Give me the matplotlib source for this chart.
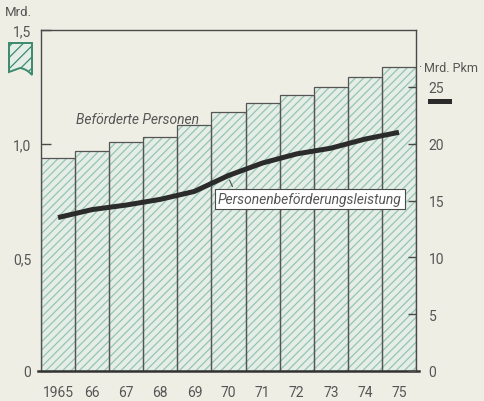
import matplotlib
matplotlib.use("Agg")
import matplotlib.pyplot as plt
from matplotlib.path import Path
from matplotlib.patches import PathPatch, Rectangle
import numpy as np

plt.rcParams['font.family'] = ['Roboto', 'DejaVu Sans']
plt.rcParams['hatch.linewidth'] = 0.9
plt.rcParams['hatch.color'] = '#96c4b2'

years = ['1965', '66', '67', '68', '69', '70', '71', '72', '73', '74', '75']
persons = [0.937, 0.968, 1.007, 1.03, 1.082, 1.139, 1.179, 1.214, 1.249, 1.293, 1.337]   # Mrd.
pkm = [13.5, 14.2, 14.6, 15.1, 15.8, 17.2, 18.3, 19.1, 19.6, 20.4, 21.0]                # Mrd. Pkm
left_ticks = [0, 0.5, 1.0, 1.5]
left_labels = ['0', '0,5', '1,0', '1,5']
right_ticks = [0, 5, 10, 15, 20, 25]

BG = '#efeee5'
TXT = '#555555'
EDGE = '#4a4a4a'

fig = plt.figure(figsize=(4.84, 4.02), dpi=100, facecolor=BG)
ax = fig.add_axes([41/484, 1-372/402, 375/484, 341/402], facecolor=BG)
x = np.arange(len(years))
ax.bar(x, persons, width=1.0, color='#e4eee6', edgecolor='#96c4b2', linewidth=0, hatch='////', zorder=2)
ax.bar(x, persons, width=1.0, facecolor='none', edgecolor='#555555', linewidth=0.9, zorder=3)
ax.set_xlim(-0.5, len(years) - 0.5)
ax.set_ylim(0, 1.5)
ax.set_yticks(left_ticks)
ax.set_yticklabels(left_labels)
ax.set_xticks(x)
ax.set_xticklabels(years)
ax.tick_params(axis='y', direction='in', length=7, width=1, color=EDGE, pad=7, labelsize=10, labelcolor=TXT)
ax.tick_params(axis='x', length=0, pad=10, labelsize=10, labelcolor=TXT)
for s in ['top', 'right', 'left']:
    ax.spines[s].set_color(EDGE)
    ax.spines[s].set_linewidth(1.0)
ax.spines['bottom'].set_visible(False)
ax.plot([-0.008, 1.008], [0, 0], transform=ax.transAxes, color='#333333', lw=1.8, clip_on=False, zorder=6)

ax2 = ax.twinx()
ax2.set_ylim(0, 30)
ax2.set_yticks(right_ticks)
ax2.set_yticklabels([str(t) for t in right_ticks])
ax2.tick_params(axis='y', direction='in', length=6, width=1, color=EDGE, pad=9, labelsize=10, labelcolor=TXT)
for s in ax2.spines.values():
    s.set_visible(False)
ax2.plot(x, pkm, color='#2b2b2b', lw=3.6, solid_capstyle='butt', zorder=5)

# Labels
ax.text(0.52, 1.109, 'Beförderte Personen', fontsize=10, style='italic', color=TXT, va='center', ha='left', zorder=7)
ax2.text(4.69, 15.1, 'Personenbeförderungsleistung', fontsize=10, style='italic', color=TXT,
         va='center', ha='left', zorder=7,
         bbox=dict(boxstyle='square,pad=0.22', facecolor='white', edgecolor=EDGE, linewidth=0.8))
ax2.annotate('', xy=(5.0, 17.0), xytext=(5.15, 16.0),
             arrowprops=dict(arrowstyle='-', color=EDGE, lw=0.8), zorder=6)

fig.text(5/484, 1-12/402, 'Mrd.', fontsize=9.5, color=TXT, ha='left', va='center')
fig.text(418/484, 1-68/402, '·', fontsize=9, color=TXT, ha='left', va='center')
fig.text(424/484, 1-68/402, 'Mrd. Pkm', fontsize=9, color=TXT, ha='left', va='center')

# legend icons
fw, fh = 484, 402
def fx(px): return px / fw
def fy(py): return 1 - py / fh
verts = [(fx(9), fy(44)), (fx(32), fy(44)), (fx(32), fy(76)),
         (fx(27), fy(70)), (fx(20), fy(69)), (fx(9), fy(73)), (fx(9), fy(44))]
codes = [Path.MOVETO, Path.LINETO, Path.LINETO, Path.CURVE3, Path.CURVE3, Path.LINETO, Path.CLOSEPOLY]
icon = PathPatch(Path(verts, codes), transform=fig.transFigure, facecolor='#e4eee6',
                 edgecolor='#3c8a6e', lw=1.4, hatch='///')
fig.patches.append(icon)
fig.patches.append(Rectangle((fx(428), fy(105)), 24/fw, 5/fh, transform=fig.transFigure,
                             facecolor='#2b2b2b', edgecolor='none'))

fig.savefig('out.png', dpi=100, facecolor=BG)
